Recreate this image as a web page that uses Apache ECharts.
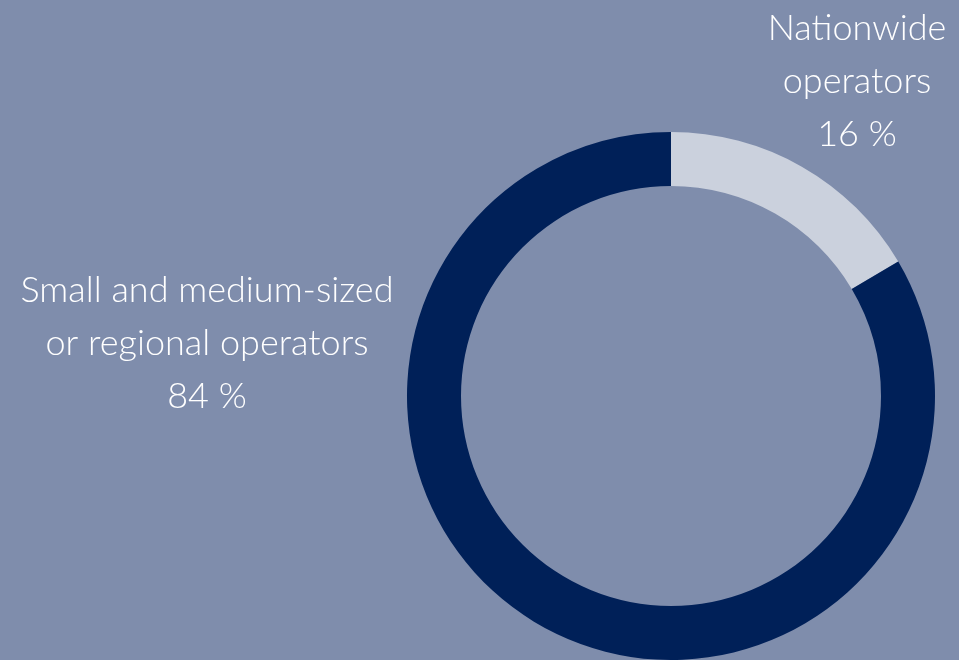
<!DOCTYPE html>
<html><head><meta charset="utf-8">
<script src="https://cdn.jsdelivr.net/npm/echarts@6/dist/echarts.min.js"></script>
<style>html,body{margin:0;padding:0;background:#7f8dac;}#c{width:959px;height:660px;}</style>
</head><body><div id="c"></div>
<script>
const categories = ['Nationwide\noperators', 'Small and medium-sized\nor regional operators'];
const values = [16.5, 83.5];
const shareLabels = ['16 %', '84 %'];
const colors = ['#cbd1dd', '#002058'];
const labelPos = [[857, 81], [207, 343]];

const chart = echarts.init(document.getElementById('c'), null, {renderer: 'canvas'});
chart.setOption({
  backgroundColor: '#7f8dac',
  animation: false,
  series: [{
    type: 'pie',
    center: [671, 396],
    radius: [210, 264],
    startAngle: 90,
    clockwise: true,
    silent: true,
    data: categories.map((c, i) => ({name: c, value: values[i], itemStyle: {color: colors[i]}})),
    label: {
      show: true,
      position: 'outer',
      alignTo: 'none',
      overflow: 'none',
      formatter: p => p.name + '\n' + shareLabels[p.dataIndex],
      color: '#ffffff',
      fontFamily: 'Lato',
      fontWeight: 300,
      fontSize: 36,
      lineHeight: 53,
      align: 'center'
    },
    labelLine: {show: false},
    labelLayout: function (params) {
      const p = labelPos[params.dataIndex];
      return {x: p[0], y: p[1], align: 'center', verticalAlign: 'middle'};
    }
  }]
});
</script></body></html>
